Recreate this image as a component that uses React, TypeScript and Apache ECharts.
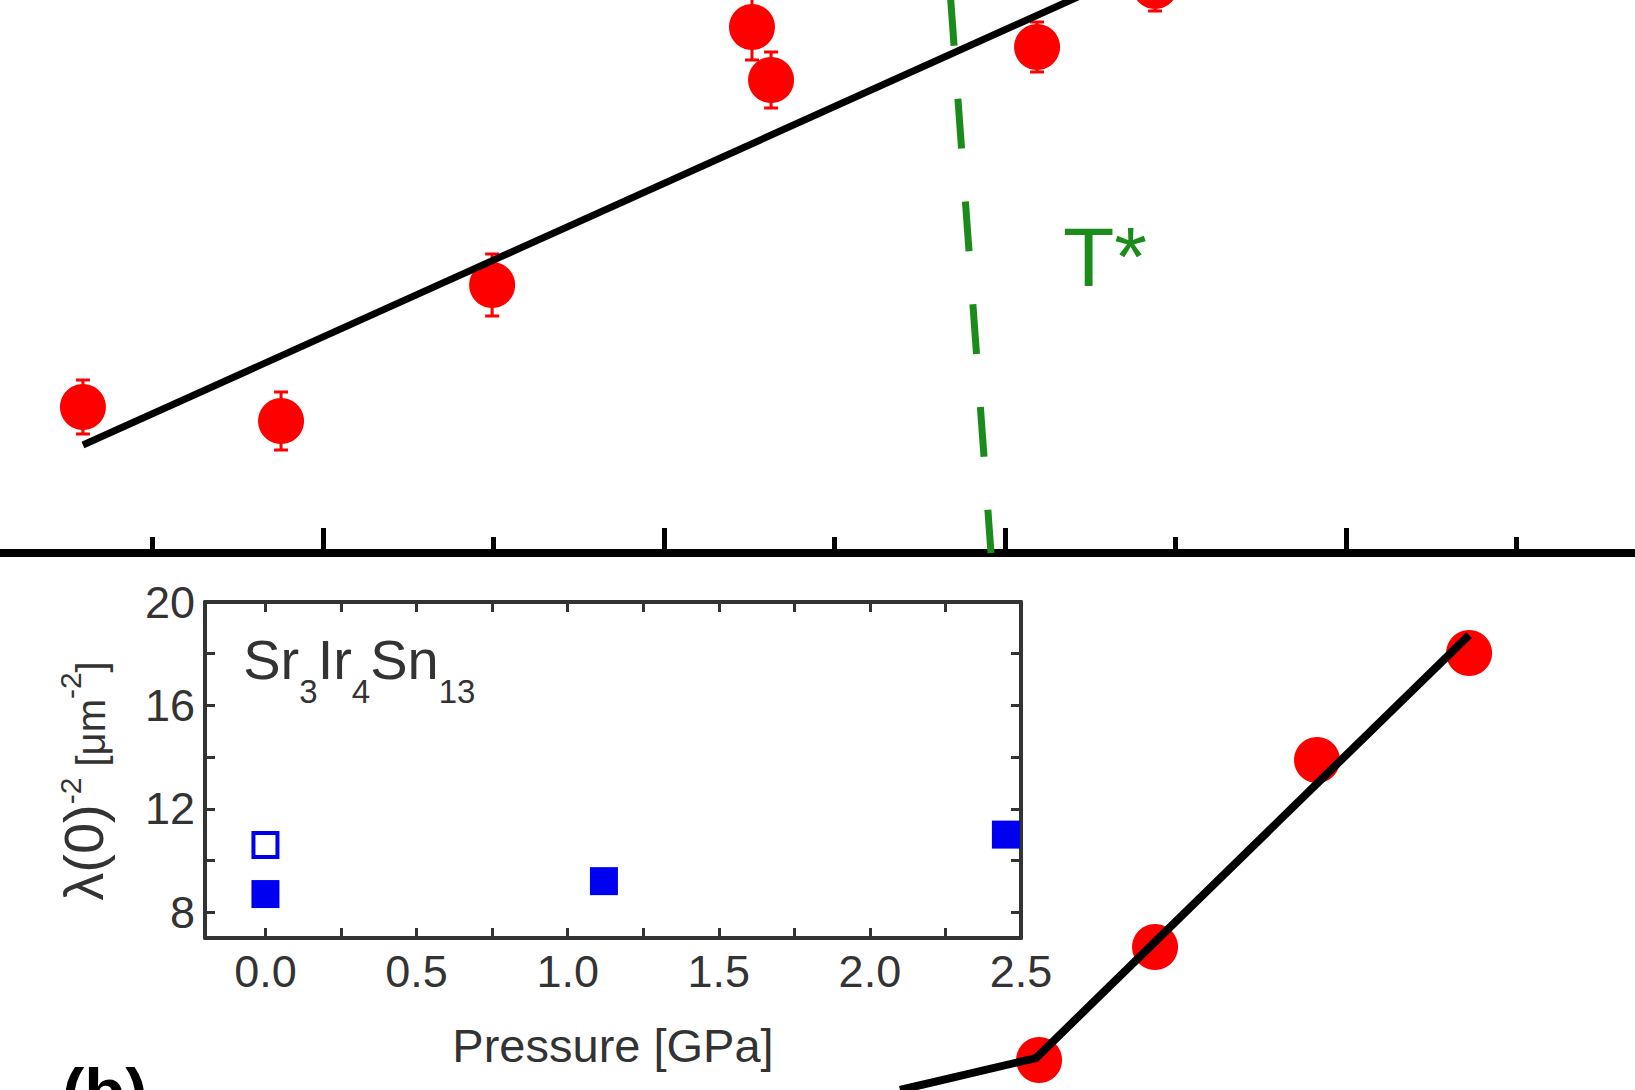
import React, { useEffect, useRef } from 'react';
import * as echarts from 'echarts';

// ---------- Shared x range of the main panels (arbitrary units, major tick = 1) ----------
const mainXMin = 0.0528;
const mainXMax = 4.8475;
const mainMajorTicks = [1, 2, 3, 4];
const mainMinorTicks = [0.5, 1.5, 2.5, 3.5, 4.5];

// ---------- Panel (a): red points with error bars, linear fit, T* marker ----------
const aYMax = 11.06;
const aX = [0.296, 0.877, 1.496, 2.258, 2.314, 3.094, 3.44];
const aY = [2.92, 2.64, 5.36, 10.52, 9.46, 10.12, 11.34];
const aErr = [0.54, 0.58, 0.62, 0.66, 0.56, 0.5, 0.5];
const aFitX = [0.296, 3.5];
const aFitY = [2.16, 12.0];
const tStarX = [2.84, 2.959];
const tStarY = [11.14, 0];

// ---------- Panel (b): red points and two-segment line ----------
const bYMax = 11;
const bX = [3.1, 3.44, 3.915, 4.361];
const bY = [0.615, 2.929, 6.76, 8.951];
const bLineX = [2.692, 3.091, 4.361];
const bLineY = [0.0, 0.655, 9.32];

// ---------- Inset: lambda(0)^-2 vs pressure ----------
const insetFilledP = [0.0, 1.12, 2.45];
const insetFilledL = [8.7, 9.2, 11.0];
const insetOpenP = [0.0];
const insetOpenL = [10.6];
const insetXTicks = [0, 0.25, 0.5, 0.75, 1.0, 1.25, 1.5, 1.75, 2.0, 2.25, 2.5];
const insetXLabels = [0, 0.5, 1.0, 1.5, 2.0, 2.5];
const insetYTicks = [8, 10, 12, 14, 16, 18, 20];
const insetYLabels = [8, 12, 16, 20];

const RED = '#ff0000';
const BLUE = '#0000f0';
const GREEN = '#1b8b1b';
const FRAME = '#333333';
const FONT = 'Liberation Sans, Arial, sans-serif';

export default function App() {
  const ref = useRef<HTMLDivElement>(null);

  useEffect(() => {
    document.body.style.margin = '0';
    if (!ref.current) return;
    const chart = echarts.init(ref.current, undefined, { renderer: 'svg' });

    const errData = aX.map((x, i) => [x, aY[i], aErr[i]]);

    const insetFrameAxis = (pos: string, ticks: number[], labels: number[] | null, fmt?: (v: number) => string) => ({
      axisLine: { show: true, onZero: false, lineStyle: { color: FRAME, width: 4 } },
      axisTick: {
        show: true,
        inside: true,
        length: 10,
        customValues: ticks,
        lineStyle: { color: FRAME, width: 3 },
      },
      axisLabel: labels
        ? {
            show: true,
            customValues: labels,
            fontSize: 45,
            color: FRAME,
            margin: pos === 'bottom' ? 11 : 10,
            fontFamily: FONT,
            formatter: fmt,
          }
        : { show: false },
      splitLine: { show: false },
      position: pos,
    });

    const option: any = {
      animation: false,
      backgroundColor: '#ffffff',
      textStyle: { fontFamily: FONT },
      grid: [
        { left: 0, right: 0, top: 0, bottom: 537 },
        { left: 0, right: 0, top: 553, bottom: 0 },
        { left: 205, right: 614, top: 602, bottom: 152 },
      ],
      xAxis: [
        {
          gridIndex: 0,
          type: 'value',
          min: mainXMin,
          max: mainXMax,
          position: 'bottom',
          axisLine: { show: true, onZero: false, lineStyle: { color: '#000', width: 8 } },
          axisTick: {
            show: true,
            inside: true,
            length: 25,
            customValues: mainMajorTicks,
            lineStyle: { color: '#000', width: 5 },
          },
          axisLabel: { show: false },
          splitLine: { show: false },
        },
        {
          gridIndex: 0,
          type: 'value',
          min: mainXMin,
          max: mainXMax,
          position: 'bottom',
          axisLine: { show: false, onZero: false },
          axisTick: {
            show: true,
            inside: true,
            length: 16,
            customValues: mainMinorTicks,
            lineStyle: { color: '#000', width: 5 },
          },
          axisLabel: { show: false },
          splitLine: { show: false },
        },
        {
          gridIndex: 1,
          type: 'value',
          min: mainXMin,
          max: mainXMax,
          show: false,
        },
        {
          gridIndex: 2,
          type: 'value',
          min: -0.2,
          max: 2.5,
          ...insetFrameAxis('bottom', insetXTicks, insetXLabels, (v: number) => v.toFixed(1)),
          name: 'Pressure [GPa]',
          nameLocation: 'middle',
          nameGap: 84,
          nameTextStyle: { fontSize: 47, color: FRAME, fontFamily: FONT },
        },
        {
          gridIndex: 2,
          type: 'value',
          min: -0.2,
          max: 2.5,
          ...insetFrameAxis('top', insetXTicks, null),
        },
      ],
      yAxis: [
        { gridIndex: 0, type: 'value', min: 0, max: aYMax, show: false },
        { gridIndex: 1, type: 'value', min: 0, max: bYMax, show: false },
        {
          gridIndex: 2,
          type: 'value',
          min: 7,
          max: 20,
          ...insetFrameAxis('left', insetYTicks, insetYLabels),
        },
        {
          gridIndex: 2,
          type: 'value',
          min: 7,
          max: 20,
          ...insetFrameAxis('right', insetYTicks, null),
        },
      ],
      series: [
        // Panel (a) error bars
        {
          type: 'custom',
          xAxisIndex: 0,
          yAxisIndex: 0,
          z: 2,
          data: errData,
          encode: { x: 0, y: 1 },
          renderItem: (params: any, api: any) => {
            const x = api.value(0);
            const y = api.value(1);
            const e = api.value(2);
            const top = api.coord([x, y + e]);
            const bot = api.coord([x, y - e]);
            const cap = 7;
            const st = { stroke: RED, lineWidth: 3 };
            return {
              type: 'group',
              children: [
                { type: 'line', shape: { x1: top[0], y1: top[1], x2: bot[0], y2: bot[1] }, style: st },
                { type: 'line', shape: { x1: top[0] - cap, y1: top[1], x2: top[0] + cap, y2: top[1] }, style: st },
                { type: 'line', shape: { x1: bot[0] - cap, y1: bot[1], x2: bot[0] + cap, y2: bot[1] }, style: st },
              ],
            };
          },
        },
        // Panel (a) points
        {
          type: 'scatter',
          xAxisIndex: 0,
          yAxisIndex: 0,
          z: 3,
          clip: false,
          symbol: 'circle',
          symbolSize: 46,
          itemStyle: { color: RED, opacity: 1 },
          data: aX.map((x, i) => [x, aY[i]]),
        },
        // T* dashed line
        {
          type: 'line',
          xAxisIndex: 0,
          yAxisIndex: 0,
          z: 4,
          symbol: 'none',
          lineStyle: { color: GREEN, width: 7, type: [50, 53], cap: 'butt' },
          data: tStarX.map((x, i) => [x, tStarY[i]]),
        },
        // Panel (a) fit
        {
          type: 'line',
          xAxisIndex: 0,
          yAxisIndex: 0,
          z: 5,
          symbol: 'none',
          lineStyle: { color: '#000', width: 7 },
          data: aFitX.map((x, i) => [x, aFitY[i]]),
        },
        // Panel (b) points
        {
          type: 'scatter',
          xAxisIndex: 2,
          yAxisIndex: 1,
          z: 3,
          clip: false,
          symbol: 'circle',
          symbolSize: 46,
          itemStyle: { color: RED, opacity: 1 },
          data: bX.map((x, i) => [x, bY[i]]),
        },
        // Panel (b) line
        {
          type: 'line',
          xAxisIndex: 2,
          yAxisIndex: 1,
          z: 5,
          symbol: 'none',
          lineStyle: { color: '#000', width: 8, join: 'round' },
          data: bLineX.map((x, i) => [x, bLineY[i]]),
        },
        // Inset filled squares
        {
          type: 'scatter',
          xAxisIndex: 3,
          yAxisIndex: 2,
          z: 6,
          symbol: 'rect',
          symbolSize: 28,
          itemStyle: { color: BLUE, opacity: 1 },
          data: insetFilledP.map((x, i) => [x, insetFilledL[i]]),
        },
        // Inset open square
        {
          type: 'scatter',
          xAxisIndex: 3,
          yAxisIndex: 2,
          z: 6,
          symbol: 'rect',
          symbolSize: 24,
          itemStyle: { color: '#ffffff', borderColor: BLUE, borderWidth: 4, opacity: 1 },
          data: insetOpenP.map((x, i) => [x, insetOpenL[i]]),
        },
      ],
      graphic: [
        {
          type: 'text',
          x: 1063,
          y: 257,
          z: 10,
          style: {
            text: 'T*',
            fontSize: 84,
            fontFamily: FONT,
            fill: GREEN,
            align: 'left',
            verticalAlign: 'middle',
          },
        },
        {
          type: 'text',
          x: 243,
          y: 631,
          z: 10,
          style: {
            text: '{z| }{m|Sr}{s|3}{m|Ir}{s|4}{m|Sn}{s|13}',
            fontFamily: FONT,
            fill: FRAME,
            align: 'left',
            verticalAlign: 'top',
            rich: {
              z: { fontSize: 1, lineHeight: 77, fontFamily: FONT },
              m: { fontSize: 56, lineHeight: 56, verticalAlign: 'top', fill: FRAME, fontFamily: FONT },
              s: { fontSize: 33, lineHeight: 33, verticalAlign: 'bottom', fill: FRAME, fontFamily: FONT },
            },
          },
        },
        {
          type: 'text',
          x: 83,
          y: 781,
          rotation: Math.PI / 2,
          z: 10,
          style: {
            text: '{L|λ(0)}{p|-2}{M| [μm}{p|-2}{M|]}',
            fontFamily: FONT,
            fill: FRAME,
            align: 'center',
            verticalAlign: 'middle',
            rich: {
              L: { fontSize: 56, lineHeight: 56, verticalAlign: 'bottom', fill: FRAME, fontFamily: FONT },
              M: { fontSize: 40, lineHeight: 40, verticalAlign: 'bottom', fill: FRAME, fontFamily: FONT },
              p: { fontSize: 30, lineHeight: 30, verticalAlign: 'top', fill: FRAME, fontFamily: FONT },
            },
          },
        },
        {
          type: 'text',
          x: 62,
          y: 1091,
          z: 10,
          style: {
            text: '(b)',
            fontSize: 67,
            fontWeight: 'bold',
            fontFamily: FONT,
            fill: '#000',
            align: 'left',
            verticalAlign: 'middle',
          },
        },
      ],
    };

    chart.setOption(option);
    return () => {
      chart.dispose();
    };
  }, []);

  return <div ref={ref} style={{ width: 1635, height: 1090, overflow: 'hidden' }} />;
}
